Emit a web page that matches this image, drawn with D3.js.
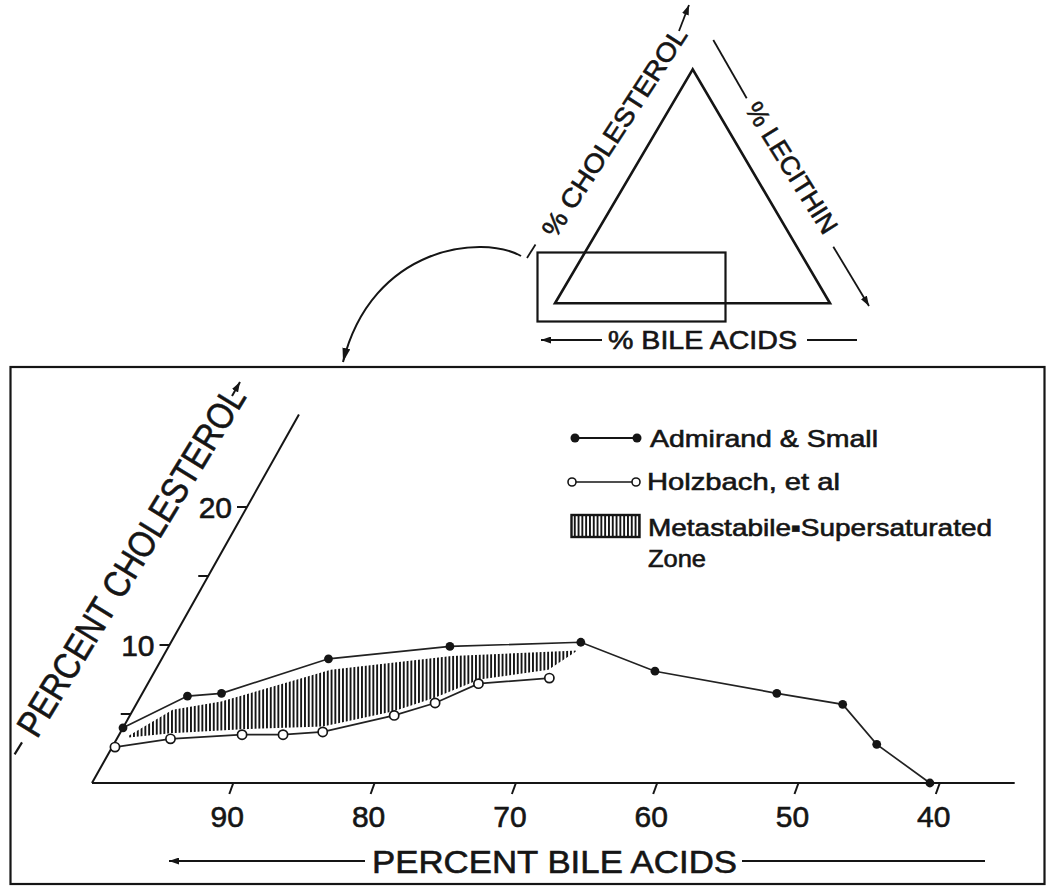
<!DOCTYPE html>
<html>
<head>
<meta charset="utf-8">
<script src="https://cdnjs.cloudflare.com/ajax/libs/d3/7.8.5/d3.min.js"></script>
<style>
  html, body { margin: 0; padding: 0; background: #fff; }
  svg { display: block; }
  text { font-family: "Liberation Sans", Arial, sans-serif; fill: #151515; stroke: #151515; stroke-width: 0.6px; }
</style>
</head>
<body>
<svg id="chart" width="1047" height="887"></svg>
<script>
// Ternary bile-salt / lecithin / cholesterol system, bile-rich corner.
// Each point is (percent bile acids, percent cholesterol); lecithin is the remainder.

const bileTicks = [90, 80, 70, 60, 50, 40];
const cholTicks = [5, 10, 15, 20];
const cholLabelTicks = [10, 20];

// Admirand & Small micellar limit
const admirandBile = [96.0, 90.4, 87.9, 79.2, 70.2, 60.8, 56.5, 48.6, 44.3, 43.2, 40.7];
const admirandChol = [4.0, 6.3, 6.5, 9.0, 9.9, 10.2, 8.1, 6.5, 5.7, 2.8, 0.0];

// Holzbach et al. limit
const holzbachBile = [97.2, 93.0, 87.8, 84.9, 82.0, 76.4, 73.1, 69.4, 64.2];
const holzbachChol = [2.6, 3.2, 3.5, 3.5, 3.7, 4.9, 5.8, 7.2, 7.6];

// Metastable-supersaturated zone outline (upper edge left->right, lower edge right->left)
const zoneUpperBile = [95.9, 91.9, 88.2, 79.4, 70.4, 61.3];
const zoneUpperChol = [3.4, 5.3, 5.9, 8.2, 9.2, 9.6];
const zoneLowerBile = [64.0, 69.2, 72.9, 76.3, 81.8, 87.6, 92.8, 95.9];
const zoneLowerChol = [8.2, 7.5, 6.2, 5.2, 4.1, 3.9, 3.6, 3.3];

const svg = d3.select("#chart");
const ink = "#151515";

// Scales: bile acids along the base (100 % at the left corner),
// cholesterol up the slanted left edge.
const xBile = d3.scaleLinear().domain([100, 0]).range([92, 1505]);
const yChol = d3.scaleLinear().domain([0, 10]).range([783, 645]);
const slant = d3.scaleLinear().domain([0, 10]).range([0, 77.5]);

// ternary projection: lecithin runs along the base, cholesterol along the left edge
function proj(b, c) {
  return [xBile(b + c) + slant(c), yChol(c)];
}

const defs = svg.append("defs");
defs.append("pattern")
  .attr("id", "vhatch").attr("patternUnits", "userSpaceOnUse")
  .attr("width", 3.8).attr("height", 10)
  .append("rect").attr("x", 0).attr("y", 0).attr("width", 1.9).attr("height", 10).attr("fill", ink);

function addArrow(id, w, h) {
  defs.append("marker")
    .attr("id", id).attr("viewBox", `0 0 ${w} ${h}`)
    .attr("refX", w).attr("refY", h / 2)
    .attr("markerUnits", "userSpaceOnUse")
    .attr("markerWidth", w).attr("markerHeight", h)
    .attr("orient", "auto")
    .append("path").attr("d", `M0,0 L${w},${h / 2} L0,${h} Z`).attr("fill", ink);
}
addArrow("arrowL", 14, 8);
addArrow("arrowS", 10, 7);

// ---------- inset: whole triangle with the enlarged corner boxed ----------
const inset = svg.append("g");
inset.append("polygon")
  .attr("points", "692.7,69.3 555,303.3 830,303.3")
  .attr("fill", "none").attr("stroke", ink).attr("stroke-width", 2.6).attr("stroke-linejoin", "miter");
inset.append("rect")
  .attr("x", 537.5).attr("y", 252.5).attr("width", 188).attr("height", 69)
  .attr("fill", "none").attr("stroke", ink).attr("stroke-width", 2.2);

inset.append("line").attr("x1", 602).attr("y1", 340).attr("x2", 541).attr("y2", 340)
  .attr("stroke", ink).attr("stroke-width", 1.8).attr("marker-end", "url(#arrowS)");
inset.append("line").attr("x1", 807).attr("y1", 340).attr("x2", 857).attr("y2", 340)
  .attr("stroke", ink).attr("stroke-width", 1.8);
inset.append("text").attr("x", 702.5).attr("y", 349)
  .attr("text-anchor", "middle").attr("font-size", 25)
  .attr("textLength", 189).attr("lengthAdjust", "spacingAndGlyphs")
  .text("% BILE ACIDS");

inset.append("line").attr("x1", 527).attr("y1", 258).attr("x2", 535.5).attr("y2", 244.5)
  .attr("stroke", ink).attr("stroke-width", 1.8);
inset.append("text")
  .attr("transform", "translate(622,137) rotate(-57)")
  .attr("text-anchor", "middle").attr("font-size", 26)
  .attr("textLength", 244).attr("lengthAdjust", "spacingAndGlyphs")
  .text("% CHOLESTEROL");
inset.append("line").attr("x1", 679).attr("y1", 31).attr("x2", 689).attr("y2", 5)
  .attr("stroke", ink).attr("stroke-width", 1.8).attr("marker-end", "url(#arrowS)");

inset.append("line").attr("x1", 713.3).attr("y1", 40).attr("x2", 746.7).attr("y2", 98.3)
  .attr("stroke", ink).attr("stroke-width", 1.8);
inset.append("text")
  .attr("transform", "translate(784,172.5) rotate(58)")
  .attr("text-anchor", "middle").attr("font-size", 26)
  .attr("textLength", 150).attr("lengthAdjust", "spacingAndGlyphs")
  .text("% LECITHIN");
inset.append("line").attr("x1", 833.3).attr("y1", 246.7).attr("x2", 869).attr("y2", 306)
  .attr("stroke", ink).attr("stroke-width", 1.8).attr("marker-end", "url(#arrowS)");

// curved pointer from the boxed corner to the enlargement
svg.append("path")
  .attr("d", "M521,256 C482,234 372,246 343,362")
  .attr("fill", "none").attr("stroke", ink).attr("stroke-width", 2)
  .attr("marker-end", "url(#arrowL)");

// ---------- enlarged panel ----------
svg.append("rect")
  .attr("x", 10.5).attr("y", 367).attr("width", 1034).attr("height", 517)
  .attr("fill", "none").attr("stroke", ink).attr("stroke-width", 2.2);

const plot = svg.append("g");

// base axis (percent bile acids)
const [bx0, by0] = proj(100, 0);
plot.append("line")
  .attr("x1", bx0).attr("y1", by0).attr("x2", xBile(34.7)).attr("y2", by0)
  .attr("stroke", ink).attr("stroke-width", 2);
plot.selectAll(".btick").data(bileTicks).join("line")
  .attr("x1", d => xBile(d)).attr("y1", yChol(0))
  .attr("x2", d => xBile(d) - 4).attr("y2", yChol(0) + 11)
  .attr("stroke", ink).attr("stroke-width", 2);
plot.selectAll(".blabel").data(bileTicks).join("text")
  .attr("x", d => xBile(d) - 6).attr("y", 827)
  .attr("text-anchor", "middle").attr("font-size", 30)
  .text(d => d);

// slanted cholesterol axis
const cTop = proj(100 - 26.7, 26.7);
plot.append("line")
  .attr("x1", bx0).attr("y1", by0).attr("x2", cTop[0]).attr("y2", cTop[1])
  .attr("stroke", ink).attr("stroke-width", 2);
plot.selectAll(".ctick").data(cholTicks).join("line")
  .attr("x1", d => proj(100 - d, d)[0]).attr("y1", d => yChol(d))
  .attr("x2", d => proj(100 - d, d)[0] - 10).attr("y2", d => yChol(d))
  .attr("stroke", ink).attr("stroke-width", 2);
plot.selectAll(".clabel").data(cholLabelTicks).join("text")
  .attr("x", d => proj(100 - d, d)[0] - 15).attr("y", d => yChol(d) + 11)
  .attr("text-anchor", "end").attr("font-size", 30)
  .text(d => d);

// axis titles
plot.append("line").attr("x1", 14.6).attr("y1", 754.3).attr("x2", 22).attr("y2", 742.3)
  .attr("stroke", ink).attr("stroke-width", 2.2);
plot.append("text")
  .attr("transform", "translate(142,568) rotate(-58.5)")
  .attr("text-anchor", "middle").attr("font-size", 37)
  .attr("textLength", 402).attr("lengthAdjust", "spacingAndGlyphs")
  .text("PERCENT CHOLESTEROL");
plot.append("line").attr("x1", 232).attr("y1", 396).attr("x2", 240).attr("y2", 382)
  .attr("stroke", ink).attr("stroke-width", 2).attr("marker-end", "url(#arrowS)");

plot.append("line").attr("x1", 365).attr("y1", 861).attr("x2", 169).attr("y2", 861)
  .attr("stroke", ink).attr("stroke-width", 1.8).attr("marker-end", "url(#arrowS)");
plot.append("line").attr("x1", 742).attr("y1", 861).attr("x2", 985).attr("y2", 861)
  .attr("stroke", ink).attr("stroke-width", 1.8);
plot.append("text").attr("x", 554.5).attr("y", 873)
  .attr("text-anchor", "middle").attr("font-size", 32)
  .attr("textLength", 365).attr("lengthAdjust", "spacingAndGlyphs")
  .text("PERCENT BILE ACIDS");

// metastable zone, vertical hatching
const zonePts = zoneUpperBile.map((b, i) => proj(b, zoneUpperChol[i]))
  .concat(zoneLowerBile.map((b, i) => proj(b, zoneLowerChol[i])));
plot.append("path")
  .attr("d", d3.line()(zonePts) + "Z")
  .attr("fill", "url(#vhatch)").attr("stroke", "none");

// data series
const admirand = admirandBile.map((b, i) => proj(b, admirandChol[i]));
const holzbach = holzbachBile.map((b, i) => proj(b, holzbachChol[i]));
const lineGen = d3.line();

plot.append("path").attr("d", lineGen(admirand))
  .attr("fill", "none").attr("stroke", "#222").attr("stroke-width", 1.7);
plot.append("path").attr("d", lineGen(holzbach))
  .attr("fill", "none").attr("stroke", "#222").attr("stroke-width", 1.7);

plot.selectAll(".adm").data(admirand).join("circle")
  .attr("cx", d => d[0]).attr("cy", d => d[1]).attr("r", 4.4)
  .attr("fill", ink);
plot.selectAll(".hol").data(holzbach).join("circle")
  .attr("cx", d => d[0]).attr("cy", d => d[1]).attr("r", 4.6)
  .attr("fill", "#fff").attr("stroke", ink).attr("stroke-width", 1.7);

// legend
const lg = svg.append("g");
lg.append("line").attr("x1", 575).attr("y1", 438).attr("x2", 637).attr("y2", 438)
  .attr("stroke", ink).attr("stroke-width", 1.8);
lg.selectAll(".la").data([575, 637]).join("circle")
  .attr("cx", d => d).attr("cy", 438).attr("r", 4.5).attr("fill", ink);
lg.append("text").attr("x", 650).attr("y", 447).attr("font-size", 24)
  .attr("textLength", 228).attr("lengthAdjust", "spacingAndGlyphs")
  .text("Admirand & Small");

lg.append("line").attr("x1", 572).attr("y1", 482).attr("x2", 636).attr("y2", 482)
  .attr("stroke", ink).attr("stroke-width", 1.6);
lg.selectAll(".lh").data([572, 636]).join("circle")
  .attr("cx", d => d).attr("cy", 482).attr("r", 4)
  .attr("fill", "#fff").attr("stroke", ink).attr("stroke-width", 1.6);
lg.append("text").attr("x", 647).attr("y", 490).attr("font-size", 24)
  .attr("textLength", 193).attr("lengthAdjust", "spacingAndGlyphs")
  .text("Holzbach, et al");

lg.append("rect").attr("x", 571.5).attr("y", 515).attr("width", 68).attr("height", 22)
  .attr("fill", "url(#vhatch)").attr("stroke", ink).attr("stroke-width", 2.4);
lg.append("text").attr("x", 648).attr("y", 535.5).attr("font-size", 24)
  .attr("textLength", 344).attr("lengthAdjust", "spacingAndGlyphs")
  .text("Metastabile▪Supersaturated");
lg.append("text").attr("x", 648).attr("y", 567).attr("font-size", 24)
  .attr("textLength", 58).attr("lengthAdjust", "spacingAndGlyphs")
  .text("Zone");
</script>
</body>
</html>
